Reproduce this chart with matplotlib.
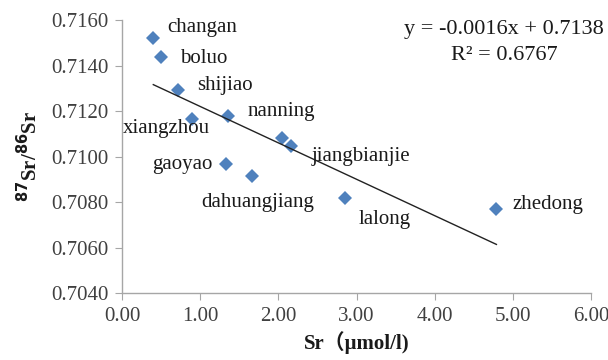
import matplotlib
matplotlib.use('Agg')
import matplotlib.pyplot as plt
import numpy as np

# Sr concentration (umol/l) and 87Sr/86Sr ratio
sr = [0.40, 0.50, 0.72, 0.90, 1.36, 2.05, 2.16, 1.33, 1.66, 2.85, 4.79]
ratio = [0.71521, 0.71437, 0.71292, 0.71165, 0.71178, 0.71081, 0.71046,
         0.70967, 0.70914, 0.70818, 0.70769]

# labels and where they sit (data coords)
names = ['changan', 'boluo', 'shijiao', 'xiangzhou', 'nanning', 'jiangbianjie',
         'gaoyao', 'dahuangjiang', 'lalong', 'zhedong']
name_x = [0.575, 0.74, 0.96, 0.01, 1.61, 2.43, 0.38, 1.02, 3.03, 5.00]
name_y = [0.71569, 0.71433, 0.71314, 0.71125, 0.71196, 0.70998, 0.70963,
          0.70796, 0.70725, 0.70791]

slope = -0.0016
intercept = 0.7138
r2 = 0.6767

xticks = [0, 1, 2, 3, 4, 5, 6]
yticks = [0.7040, 0.7060, 0.7080, 0.7100, 0.7120, 0.7140, 0.7160]

serif = ['Liberation Serif', 'Noto Sans CJK SC']
grey = '#404040'
fs = 15

fig = plt.figure(figsize=(6.08, 3.6), dpi=100)
ax = fig.add_axes([0.2007, 0.1861, 0.7713, 0.7583])

ax.plot(sr, ratio, 'D', color='#4F81BD', markersize=7.5, markeredgewidth=0)

# trend line over the data range
xl = np.array([min(sr), max(sr)])
ax.plot(xl, slope * xl + intercept, color='#222222', lw=1)

for n, tx, ty in zip(names, name_x, name_y):
    ax.text(tx, ty, n, fontsize=fs, family=serif, color='#1a1a1a',
            ha='left', va='center')

ax.set_xlim(0, 6)
ax.set_ylim(0.7040, 0.7160)
ax.set_xticks(xticks)
ax.set_xticklabels(['%.2f' % v for v in xticks])
ax.set_yticks(yticks)
ax.set_yticklabels(['%.4f' % v for v in yticks])

for s in ['top', 'right']:
    ax.spines[s].set_visible(False)
for s in ['left', 'bottom']:
    ax.spines[s].set_color('#a6a6a6')
    ax.spines[s].set_linewidth(1)
ax.tick_params(direction='out', length=5, color='#a6a6a6', labelcolor=grey,
               labelsize=fs, pad=5)
for lab in ax.get_xticklabels() + ax.get_yticklabels():
    lab.set_family(serif)

ax.set_xlabel('Sr（μmol/l)', family=serif, fontweight='bold', fontsize=fs,
              color='#1a1a1a', labelpad=4)
ax.set_ylabel(r'$\mathbf{^{87}}$Sr/$\mathbf{^{86}}$Sr', family=serif,
              fontweight='bold', fontsize=fs, color='#1a1a1a', labelpad=6)

fig.text(0.829, 0.917, 'y = -0.0016x + 0.7138', family=serif, fontsize=16,
         ha='center', va='center', color='#1a1a1a')
fig.text(0.829, 0.847, 'R² = %.4f' % r2, family=serif, fontsize=16,
         ha='center', va='center', color='#1a1a1a')

fig.savefig('out.png', dpi=100)
